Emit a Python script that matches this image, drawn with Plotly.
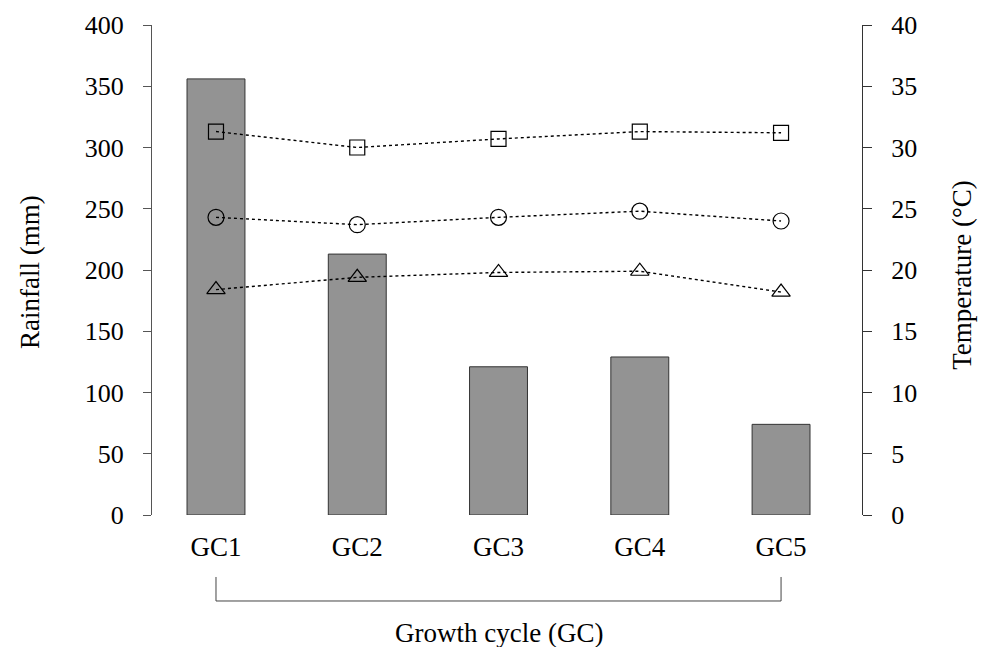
import plotly.graph_objects as go

categories = ["GC1", "GC2", "GC3", "GC4", "GC5"]
rainfall = [356, 213, 121, 129, 74]
temp_max = [31.3, 30.0, 30.7, 31.3, 31.2]
temp_mean = [24.3, 23.7, 24.3, 24.8, 24.0]
temp_min = [18.4, 19.4, 19.8, 19.9, 18.2]

FONT = "Liberation Serif"
x = list(range(len(categories)))

fig = go.Figure()
fig.add_trace(go.Bar(x=x, y=rainfall, width=0.41, marker=dict(color="#939393", line=dict(color="#333333", width=1)),
                     yaxis="y", showlegend=False))
for vals, sym, sz in [(temp_max, "square-open", 15), (temp_mean, "circle-open", 16), (temp_min, "triangle-up-open", 16)]:
    fig.add_trace(go.Scatter(x=x, y=vals, yaxis="y2", mode="lines+markers",
                             line=dict(color="black", width=1.4, dash="dot"),
                             marker=dict(symbol=sym, size=sz, color="black", line=dict(width=1.2, color="black")),
                             showlegend=False))

fig.update_layout(
    width=980, height=639,
    margin=dict(l=144, r=126, t=17, b=132, autoexpand=False),
    plot_bgcolor="white", paper_bgcolor="white",
    font=dict(family=FONT, size=26, color="black"),
    xaxis=dict(range=[-0.453, 4.573], tickvals=x, ticktext=categories, showline=False, showgrid=False,
               zeroline=False, ticks="", ticklabelstandoff=13, tickfont=dict(size=27), automargin=False),
    yaxis=dict(range=[0, 400], dtick=50, showline=True, linecolor="#555555", linewidth=1.2, ticks="outside",
               ticklen=8, tickcolor="#555555", showgrid=False, zeroline=False, ticklabelstandoff=14,
               tickfont=dict(size=26), automargin=False),
    yaxis2=dict(range=[0, 40], dtick=5, overlaying="y", side="right", showline=True, linecolor="#333333",
                linewidth=1.2, ticks="outside", ticklen=9, tickcolor="#333333", showgrid=False, zeroline=False,
                ticklabelstandoff=14, tickfont=dict(size=26), automargin=False),
    shapes=[
        dict(type="line", xref="x", yref="paper", x0=0, x1=0, y0=-0.1265, y1=-0.1755, line=dict(color="#444444", width=1)),
        dict(type="line", xref="x", yref="paper", x0=4, x1=4, y0=-0.1265, y1=-0.1755, line=dict(color="#444444", width=1)),
        dict(type="line", xref="x", yref="paper", x0=0, x1=4, y0=-0.1755, y1=-0.1755, line=dict(color="#444444", width=1)),
    ],
    annotations=[
        dict(text="Growth cycle (GC)", xref="x", yref="paper", x=2, y=-0.241, showarrow=False,
             font=dict(size=27), yanchor="middle"),
        dict(text="Rainfall (mm)", xref="paper", yref="paper", x=-0.1718, y=0.496, showarrow=False,
             font=dict(size=27), textangle=-90, xanchor="center", yanchor="middle"),
        dict(text="Temperature (°C)", xref="paper", yref="paper", x=1.1408, y=0.49, showarrow=False,
             font=dict(size=27), textangle=-90, xanchor="center", yanchor="middle"),
    ],
)
fig.write_html("out.html")
